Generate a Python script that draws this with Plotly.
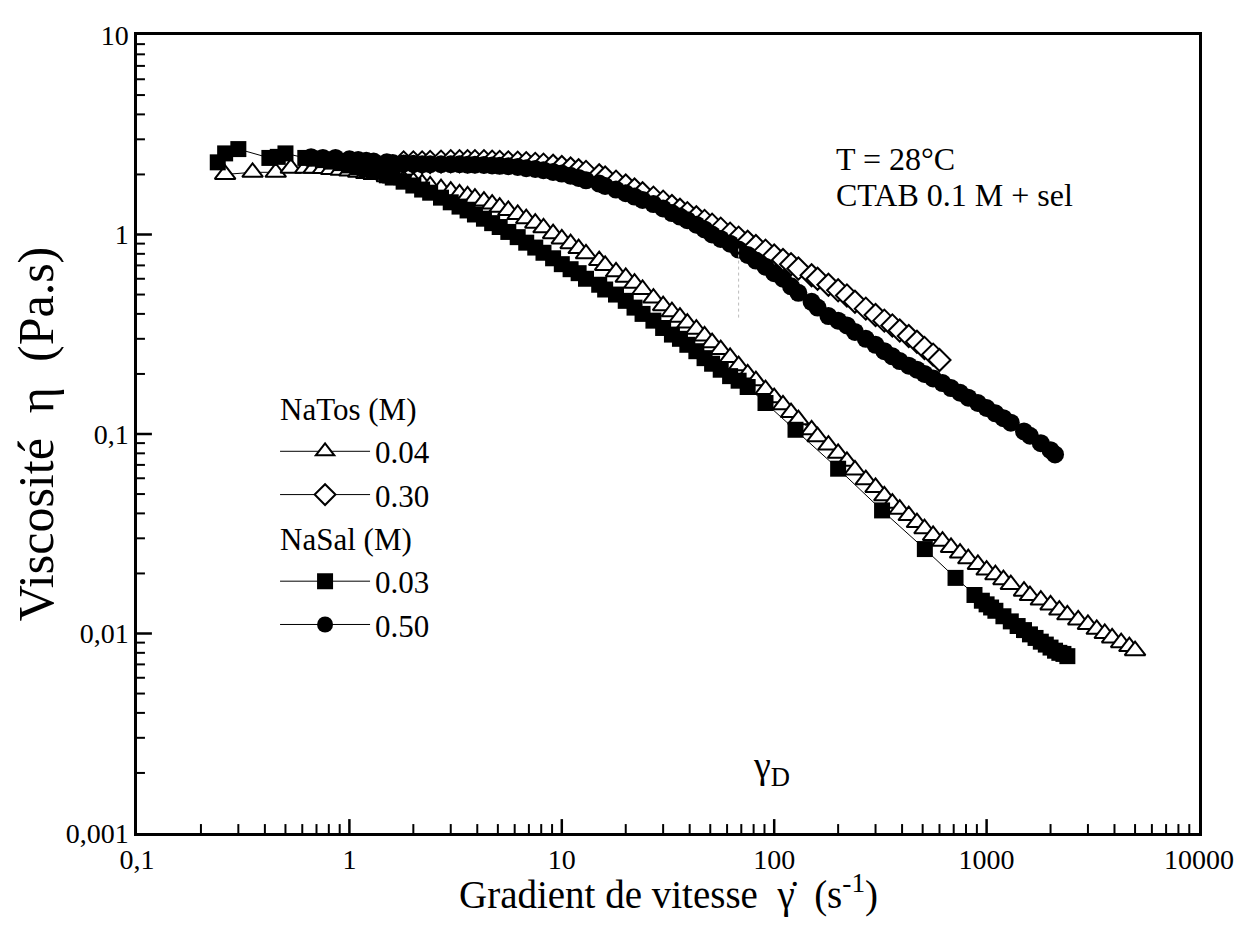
import plotly.graph_objects as go

# NaTos 0.04 M (triangles ouverts)
tos004_x = [0.26, 0.35, 0.45, 0.53, 0.62, 0.68, 0.75, 0.82, 0.91,
            1.0, 1.1, 1.2, 1.3, 1.5, 1.6, 1.8, 2.0, 2.2, 2.4, 2.7, 3.0, 3.3, 3.6, 3.9, 4.3, 4.7, 5.1, 5.6, 6.2, 6.8, 7.5, 8.2, 9.1,
            10, 11, 12, 13, 15, 16, 18, 20, 22, 24, 27, 30, 33, 36, 39, 43, 47, 51, 56, 62, 68, 75, 82, 91,
            100, 110, 120, 130, 150, 160, 180, 200, 220, 240, 270, 300, 330, 360, 390, 430, 470, 510, 560, 620, 680, 750, 820, 910,
            1000, 1100, 1200, 1300, 1500, 1600, 1800, 2000, 2200, 2400, 2700, 3000, 3300, 3600, 3900, 4300, 4700, 5000]
tos004_y = [2.0, 2.05, 2.05, 2.15, 2.15, 2.15, 2.14, 2.12, 2.1,
            2.08, 2.05, 2.02, 2.0, 1.95, 1.92, 1.88, 1.84, 1.8, 1.75, 1.7, 1.65, 1.6, 1.56, 1.52, 1.47, 1.42, 1.37, 1.32, 1.26, 1.2, 1.14, 1.08, 1.01,
            0.95, 0.9, 0.85, 0.8, 0.74, 0.7, 0.65, 0.61, 0.57, 0.53, 0.48, 0.44, 0.41, 0.385, 0.36, 0.335, 0.31, 0.287, 0.265, 0.242, 0.22, 0.2, 0.185, 0.167,
            0.152, 0.14, 0.128, 0.118, 0.105, 0.097, 0.088, 0.08, 0.073, 0.066, 0.059, 0.054, 0.049, 0.045, 0.042, 0.039, 0.036, 0.0335, 0.031, 0.029, 0.027, 0.0253, 0.0237, 0.0222,
            0.0208, 0.0197, 0.0186, 0.0176, 0.0163, 0.0155, 0.0147, 0.0139, 0.0131, 0.0124, 0.0117, 0.0111, 0.0105, 0.01, 0.0095, 0.009, 0.0086, 0.0082]

# NaTos 0.30 M (losanges ouverts)
tos030_x = [1.8, 2.0, 2.2, 2.4, 2.7, 3.0, 3.3, 3.6, 3.9, 4.3, 4.7, 5.1, 5.6, 6.2, 6.8, 7.5, 8.2, 9.1,
            10, 11, 12, 13, 15, 16, 18, 20, 22, 24, 27, 30, 33, 36, 39, 43, 47, 51, 56, 62, 68, 75, 82, 91,
            100, 110, 120, 130, 150, 160, 180, 200, 220, 240, 270, 300, 330, 360, 390, 430, 470, 510, 560, 600]
tos030_y = [2.3, 2.3, 2.3, 2.31, 2.32, 2.33, 2.33, 2.33, 2.33, 2.33, 2.32, 2.31, 2.3, 2.29, 2.28, 2.26, 2.24, 2.21,
            2.18, 2.14, 2.1, 2.06, 1.98, 1.93, 1.84, 1.76, 1.68, 1.61, 1.53, 1.46, 1.39, 1.33, 1.28, 1.22, 1.17, 1.12, 1.07, 1.01, 0.965, 0.92, 0.875, 0.83,
            0.785, 0.745, 0.71, 0.675, 0.625, 0.6, 0.56, 0.525, 0.495, 0.46, 0.425, 0.395, 0.37, 0.35, 0.33, 0.31, 0.29, 0.27, 0.25, 0.235]

# NaSal 0.03 M (carres pleins)
sal003_x = [0.24, 0.26, 0.3, 0.42, 0.46, 0.5, 0.62, 0.68, 0.75, 0.82, 0.91,
            1.0, 1.1, 1.2, 1.3, 1.5, 1.6, 1.8, 2.0, 2.2, 2.4, 2.7, 3.0, 3.3, 3.6, 3.9, 4.3, 4.7, 5.1, 5.6, 6.2, 6.8, 7.5, 8.2, 9.1,
            10, 11, 12, 13, 15, 16, 18, 20, 22, 24, 27, 30, 33, 36, 39, 43, 47, 51, 56, 62, 68, 75,
            91, 126, 200, 322, 512, 714, 877,
            950, 1000, 1050, 1100, 1200, 1300, 1400, 1500, 1600, 1700, 1800, 1900, 2000, 2100, 2200, 2300, 2400]
sal003_y = [2.3, 2.55, 2.68, 2.42, 2.45, 2.55, 2.42, 2.4, 2.36, 2.32, 2.28,
            2.22, 2.17, 2.12, 2.07, 1.98, 1.93, 1.84, 1.76, 1.68, 1.62, 1.53, 1.45, 1.38, 1.32, 1.26, 1.2, 1.14, 1.09, 1.03, 0.97, 0.91, 0.86, 0.81, 0.76,
            0.71, 0.67, 0.64, 0.6, 0.56, 0.53, 0.5, 0.465, 0.43, 0.4, 0.37, 0.34, 0.315, 0.3, 0.28, 0.26, 0.24, 0.225, 0.21, 0.195, 0.185, 0.172,
            0.143, 0.105, 0.067, 0.0414, 0.0265, 0.019, 0.0156,
            0.0146, 0.014, 0.0135, 0.013, 0.0122, 0.0115, 0.0109, 0.0104, 0.0099, 0.0095, 0.0091, 0.0088, 0.0085, 0.0082, 0.008, 0.0079, 0.0077]

# NaSal 0.50 M (cercles pleins)
sal050_x = [0.66, 0.75, 0.86,
            1.0, 1.1, 1.2, 1.3, 1.5, 1.6, 1.8, 2.0, 2.2, 2.4, 2.7, 3.0, 3.3, 3.6, 3.9, 4.3, 4.7, 5.1, 5.6, 6.2, 6.8, 7.5, 8.2, 9.1,
            10, 11, 12, 13, 15, 16, 18, 20, 22, 24, 27, 30, 33, 36, 39, 43, 47, 51, 56, 62, 68, 75, 82, 91,
            100, 110, 120, 130, 150, 160, 180, 200, 220, 240, 270, 300, 330, 360, 390, 430, 470, 510, 560, 620, 680, 750, 820, 910,
            1000, 1100, 1200, 1300, 1500, 1600, 1800, 2000, 2100]
sal050_y = [2.44, 2.42, 2.42,
            2.38, 2.36, 2.34, 2.32, 2.3, 2.28, 2.27, 2.26, 2.25, 2.25, 2.25, 2.25, 2.25, 2.24, 2.24, 2.23, 2.22, 2.21, 2.2, 2.18, 2.15, 2.13, 2.1, 2.06,
            2.02, 1.97, 1.92, 1.87, 1.8, 1.75, 1.68, 1.61, 1.55, 1.49, 1.42, 1.35, 1.28, 1.23, 1.18, 1.12, 1.06, 1.0, 0.95, 0.9, 0.84, 0.79, 0.74, 0.69,
            0.64, 0.6, 0.55, 0.51, 0.46, 0.43, 0.39, 0.37, 0.35, 0.325, 0.3, 0.28, 0.26, 0.245, 0.232, 0.22, 0.21, 0.2, 0.19, 0.18, 0.17, 0.161, 0.152, 0.143,
            0.135, 0.127, 0.12, 0.114, 0.103, 0.098, 0.09, 0.083, 0.079]

# graduations (notation francaise avec virgule)
x_ticks = [0.1, 1, 10, 100, 1000, 10000]
x_ticktext = ['0,1', '1', '10', '100', '1000', '10000']
y_ticks = [0.001, 0.01, 0.1, 1, 10]
y_ticktext = ['0,001', '0,01', '0,1', '1', '10']

# petites graduations 2..9 de chaque decade
x_minor = [m * d for d in [0.1, 1, 10, 100, 1000] for m in range(2, 10)]
y_minor = [m * d for d in [0.001, 0.01, 0.1, 1] for m in range(2, 10)]

X_MIN, Y_MIN = 0.1, 0.001
PX_PER_DEC_X, PX_PER_DEC_Y = 1069 / 5, 804 / 4
FONT = 'Liberation Serif, Times New Roman, serif'

fig = go.Figure()

fig.add_trace(go.Scatter(
    x=tos004_x, y=tos004_y, name='0.04', mode='lines+markers',
    legendgroup='NaTos', legendgrouptitle=dict(text='NaTos (M)'),
    line=dict(color='black', width=1),
    marker=dict(symbol='triangle-up', size=18, color='white', line=dict(color='black', width=2)),
))

fig.add_trace(go.Scatter(
    x=tos030_x, y=tos030_y, name='0.30', mode='lines+markers',
    legendgroup='NaTos',
    line=dict(color='black', width=1),
    marker=dict(symbol='diamond', size=17, color='white', line=dict(color='black', width=2)),
))

fig.add_trace(go.Scatter(
    x=sal003_x, y=sal003_y, name='0.03', mode='lines+markers',
    legendgroup='NaSal', legendgrouptitle=dict(text='NaSal (M)'),
    line=dict(color='black', width=1),
    marker=dict(symbol='square', size=16, color='black'),
))

fig.add_trace(go.Scatter(
    x=sal050_x, y=sal050_y, name='0.50', mode='lines+markers',
    legendgroup='NaSal',
    line=dict(color='black', width=1),
    marker=dict(symbol='circle', size=18, color='black'),
))

# repere pointille faint pres de gamma_D
fig.add_trace(go.Scatter(
    x=[68, 68], y=[0.85, 0.37], mode='lines', showlegend=False, hoverinfo='skip',
    line=dict(color='#bbbbbb', width=1, dash='dot'),
))


# graduations vers l'interieur (bas et gauche seulement), tracees comme segments
def tick_segments(vals, length_px, axis):
    xs, ys = [], []
    for v in vals:
        if axis == 'x':
            xs += [v, v, None]
            ys += [Y_MIN, Y_MIN * 10 ** (length_px / PX_PER_DEC_Y), None]
        else:
            xs += [X_MIN, X_MIN * 10 ** (length_px / PX_PER_DEC_X), None]
            ys += [v, v, None]
    return xs, ys


for vals, length, width, axis in [(x_ticks[1:-1], 14, 2.5, 'x'), (x_minor, 9, 2, 'x'),
                                  (y_ticks[1:-1], 15, 2.5, 'y'), (y_minor, 8, 2, 'y')]:
    tx, ty = tick_segments(vals, length, axis)
    fig.add_trace(go.Scatter(x=tx, y=ty, mode='lines', showlegend=False, hoverinfo='skip',
                             line=dict(color='black', width=width)))

fig.add_annotation(xref='paper', yref='paper', x=0.656, y=0.845, xanchor='left', yanchor='middle',
                   text='T = 28°C', showarrow=False, font=dict(family=FONT, size=32, color='black'))
fig.add_annotation(xref='paper', yref='paper', x=0.656, y=0.799, xanchor='left', yanchor='middle',
                   text='CTAB 0.1 M + sel', showarrow=False, font=dict(family=FONT, size=32, color='black'))
fig.add_annotation(xref='paper', yref='paper', x=0.578, y=0.082, xanchor='left', yanchor='middle',
                   text='γ<sub>D</sub>', showarrow=False, font=dict(family=FONT, size=38, color='black'))
# titre de l'axe x
fig.add_annotation(xref='paper', yref='paper', x=0.5, y=-0.074, xanchor='center', yanchor='middle',
                   text='Gradient de vitesse  γ̇  (s<sup>-1</sup>)', showarrow=False,
                   font=dict(family=FONT, size=39, color='black'))

axis_common = dict(
    type='log', showgrid=False, zeroline=False,
    showline=True, linecolor='black', linewidth=2.5, mirror=True,
    ticks='', tickfont=dict(family=FONT, size=28, color='black'),
)

fig.update_layout(
    width=1238, height=925,
    paper_bgcolor='white', plot_bgcolor='white',
    margin=dict(l=129, r=40, t=21, b=100),
    font=dict(family=FONT, color='black'),
    xaxis=dict(axis_common, range=[-1, 4], tickvals=x_ticks, ticktext=x_ticktext),
    yaxis=dict(axis_common, range=[-3, 1], tickvals=y_ticks, ticktext=y_ticktext,
               title=dict(text='Viscosité  η  (Pa.s)', font=dict(family=FONT, size=50), standoff=2)),
    showlegend=True,
    legend=dict(
        x=0.13, y=0.566, xanchor='left', yanchor='top',
        bgcolor='rgba(0,0,0,0)', font=dict(family=FONT, size=31, color='black'),
        grouptitlefont=dict(family=FONT, size=31, color='black'),
        tracegroupgap=0, itemwidth=90,
    ),
)

fig.write_html("out.html")
